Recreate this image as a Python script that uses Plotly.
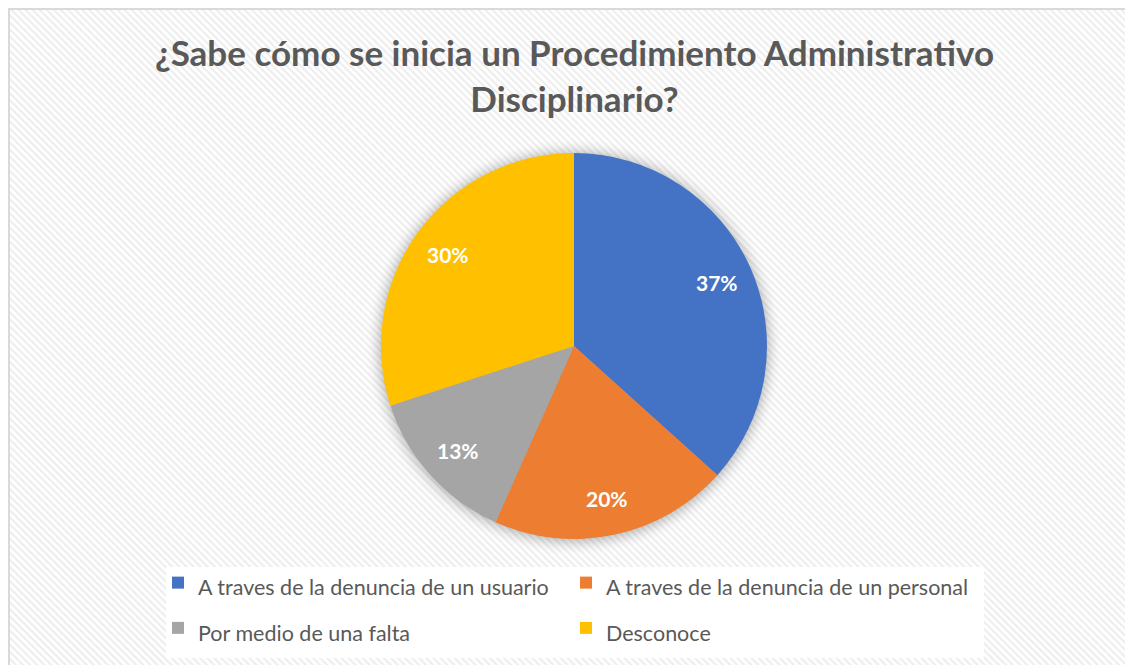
import base64
import math
import plotly.graph_objects as go

categories = [
    "A traves de la denuncia de un usuario",
    "A traves de la denuncia de un personal",
    "Por medio de una falta",
    "Desconoce",
]
counts = [11, 6, 4, 9]
colors = ["#4472C4", "#ED7D31", "#A5A5A5", "#FFC000"]
title_text = "¿Sabe cómo se inicia un Procedimiento Administra\u200ctivo<br>Disciplinario?"

W, H = 1133, 665

# pie placement (figure pixels)
PCX, PCY, PR = 566, 338, 193
dom_x = [(PCX - PR) / W, (PCX + PR) / W]
dom_y = [1 - (PCY + PR) / H, 1 - (PCY - PR) / H]

svg = f'''<svg xmlns="http://www.w3.org/2000/svg" width="{W}" height="{H}">
<defs>
<pattern id="p" width="5" height="5" patternUnits="userSpaceOnUse" patternTransform="rotate(-45)">
<rect width="5" height="5" fill="#ffffff"/><rect width="2.2" height="5" fill="#eeeeee"/></pattern>
<filter id="b" x="-50%" y="-50%" width="200%" height="200%"><feGaussianBlur stdDeviation="7"/></filter>
</defs>
<rect width="{W}" height="{H}" fill="#ffffff"/>
<rect x="1" y="1" width="{W + 10}" height="{H + 10}" fill="url(#p)" stroke="#d9d9d9" stroke-width="2"/>
<circle cx="{PCX}" cy="{PCY + 1}" r="{PR + 1}" fill="#000000" opacity="0.32" filter="url(#b)"/>
</svg>'''
src = "data:image/svg+xml;base64," + base64.b64encode(svg.encode()).decode()

fig = go.Figure()
fig.add_trace(go.Pie(
    labels=[f'<span style="font-size:21.5px">{c}</span>' for c in categories],
    values=counts,
    sort=False,
    direction="clockwise",
    rotation=0,
    marker=dict(colors=colors, line=dict(width=0)),
    textinfo="none",
    domain=dict(x=dom_x, y=dom_y),
    showlegend=True,
    hovertext=categories,
    hoverinfo="text+percent",
))

# percentage labels placed at ~0.81 of radius along each slice's mid-angle
total = sum(counts)
annotations = []
cum = 0
for v in counts:
    mid = (cum + v / 2) / total * 2 * math.pi
    cum += v
    r = 0.81 * PR
    px = PCX + r * math.sin(mid)
    py = PCY - r * math.cos(mid)
    annotations.append(dict(
        x=px / W, y=1 - py / H, xref="paper", yref="paper",
        text=f"{round(v / total * 100)}%", showarrow=False,
        font=dict(family="Lato", size=21, color="white", weight="bold"),
        xanchor="center", yanchor="middle",
    ))

fig.update_layout(
    width=W, height=H,
    margin=dict(l=0, r=0, t=0, b=0),
    paper_bgcolor="white",
    plot_bgcolor="white",
    title=dict(
        text=title_text,
        x=0.5, xanchor="center",
        y=1 - 58 / H, yanchor="top", yref="container",
        font=dict(family="Lato", size=35, color="#595959", weight="bold"),
    ),
    legend=dict(
        orientation="h",
        x=150 / W, xanchor="left",
        y=1 - 547 / H, yanchor="top",
        entrywidth=363, entrywidthmode="pixels",
        bgcolor="rgba(0,0,0,0)",
        font=dict(family="Lato", size=32.5, color="#595959"),
        itemclick=False, itemdoubleclick=False,
    ),
    annotations=annotations,
    images=[dict(
        source=src, xref="paper", yref="paper",
        x=0, y=1, sizex=1, sizey=1,
        xanchor="left", yanchor="top", sizing="stretch", layer="below",
    )],
    shapes=[dict(
        type="rect", xref="paper", yref="paper",
        x0=158 / W, x1=976 / W, y0=1 - 650 / H, y1=1 - 559 / H,
        fillcolor="white", line=dict(width=0), layer="above",
    )],
)

fig.write_html("out.html")
